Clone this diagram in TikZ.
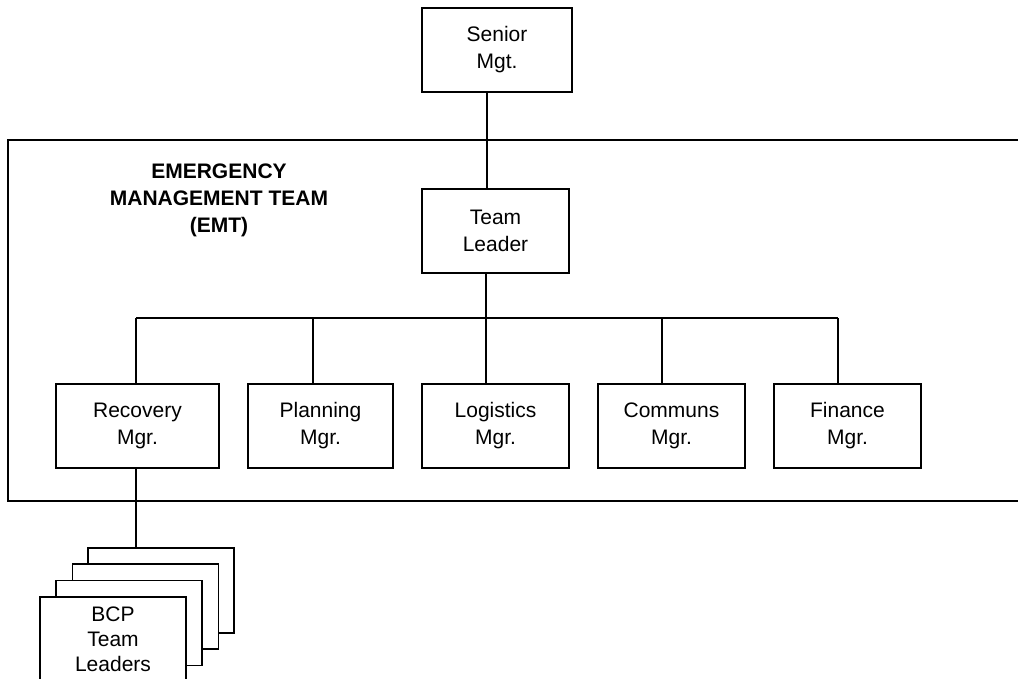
\documentclass[tikz,border=0pt]{standalone}
\usepackage{fontspec}
\setmainfont{Liberation Sans}
\begin{document}
\begin{tikzpicture}[x=1pt,y=-1pt,
  line width=1.5pt,
  orgbox/.style={draw,fill=white,rectangle,inner sep=0pt,minimum height=84pt,
    align=center,font=\fontsize{21}{27}\selectfont},
  conn/.style={draw,line width=1.5pt}]
\useasboundingbox (0,0) rectangle (1018,679);
% EMT frame (right side runs off the picture)
\draw (1018,140) -- (8,140) -- (8,501) -- (1018,501);
\node[align=center,font=\bfseries\fontsize{21}{27}\selectfont] (emtlabel) at (219,200)
  {EMERGENCY\\MANAGEMENT TEAM\\(EMT)};
% connector x positions
\coordinate (xmain) at (487,0);
\coordinate (xrec) at (136,0);
\coordinate (xplan) at (313,0);
\coordinate (xlog) at (486,0);
\coordinate (xcom) at (662,0);
\coordinate (xfin) at (838,0);
\coordinate (bus) at (0,318);
% boxes
\node[orgbox,minimum width=150pt] (senior) at (497,50) {Senior\\Mgt.};
\node[orgbox,minimum width=147pt] (tl) at (495.5,231) {Team\\Leader};
\node[orgbox,minimum width=163pt] (rec) at (137.5,426) {Recovery\\Mgr.};
\node[orgbox,minimum width=145pt] (plan) at (320.5,426) {Planning\\Mgr.};
\node[orgbox,minimum width=147pt] (log) at (495.5,426) {Logistics\\Mgr.};
\node[orgbox,minimum width=147pt] (com) at (671.5,426) {Communs\\Mgr.};
\node[orgbox,minimum width=147pt] (fin) at (847.5,426) {Finance\\Mgr.};
% stacked BCP boxes
\node[orgbox,minimum width=146pt,minimum height=85pt] (b4) at (161,590.5) {};
\node[orgbox,minimum width=146pt,minimum height=85pt] (b3) at (145.5,606.5) {};
\node[orgbox,minimum width=146pt,minimum height=85pt] (b2) at (129,623) {};
\node[orgbox,minimum width=146pt,minimum height=85pt,font=\fontsize{21}{25}\selectfont] (b1) at (113,639.5) {BCP\\Team\\Leaders};
% connectors
\draw[conn] (senior.south -| xmain) -- (tl.north -| xmain);
\draw[conn] (tl.south -| xlog) -- (bus -| xlog);
\draw[conn] (bus -| xrec) -- (bus -| xfin);
\draw[conn] (bus -| xrec) -- (rec.north -| xrec);
\draw[conn] (bus -| xplan) -- (plan.north -| xplan);
\draw[conn] (bus -| xlog) -- (log.north -| xlog);
\draw[conn] (bus -| xcom) -- (com.north -| xcom);
\draw[conn] (bus -| xfin) -- (fin.north -| xfin);
\draw[conn] (rec.south -| xrec) -- (b4.north -| xrec);
\end{tikzpicture}
\end{document}
